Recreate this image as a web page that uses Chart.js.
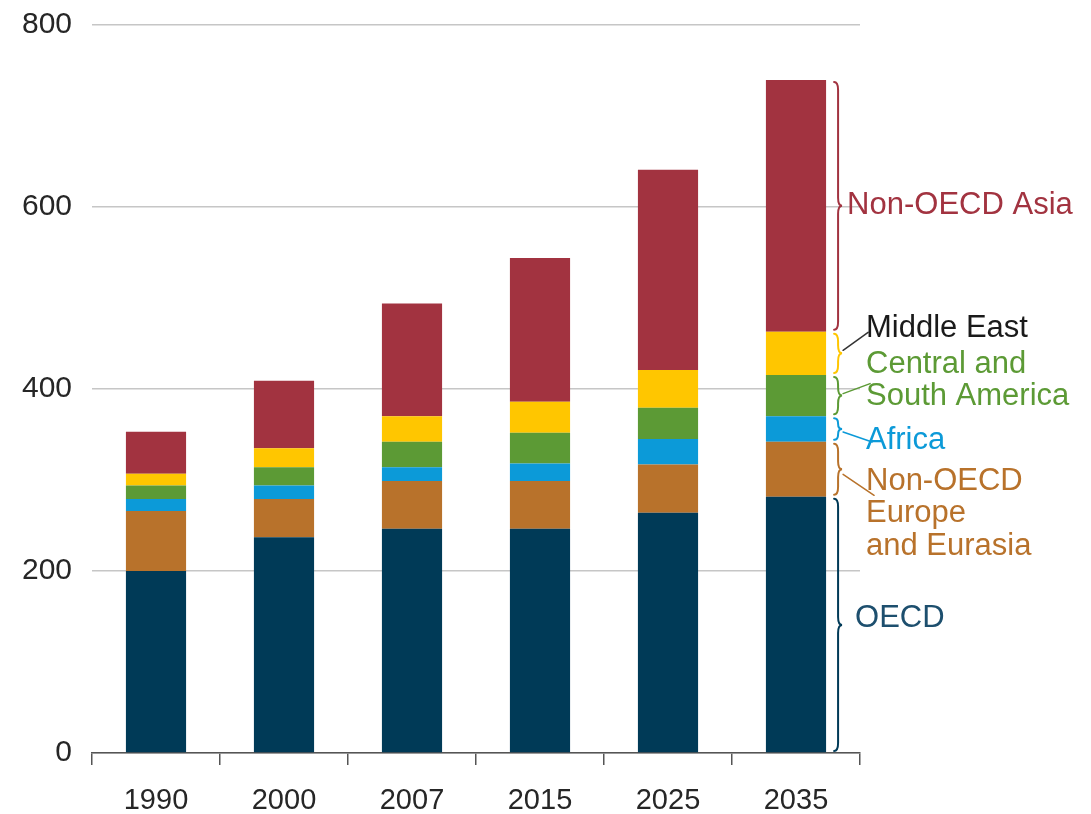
<!DOCTYPE html>
<html>
<head>
<meta charset="utf-8">
<script src="https://cdn.jsdelivr.net/npm/chart.js@4/dist/chart.umd.min.js"></script>
<style>
    body { margin: 0; background: #fff; }
    #wrap { width: 1091px; height: 814px; position: relative; }
</style>
</head>
<body>
<div id="wrap"><canvas id="energyChart"></canvas></div>
<script>
const years = ['1990', '2000', '2007', '2015', '2025', '2035'];
const yTicks = [0, 200, 400, 600, 800];

// stacked from the bottom up
const oecd = [200, 237, 246.5, 246.5, 264, 281.5];
const nonOecdEurope = [66, 42, 52.5, 52.5, 53, 60.5];
const africa = [13, 15, 15, 19, 28, 28];
const centralSouthAmerica = [15, 20, 28, 34, 34.5, 45.5];
const middleEast = [13, 21, 28, 34, 41.5, 47.5];
const nonOecdAsia = [46, 74, 124, 158, 220, 276.5];

const regionNames = ['OECD', 'Non-OECD Europe and Eurasia', 'Africa', 'Central and South America', 'Middle East', 'Non-OECD Asia'];
const regionColors = ['#003a57', '#b8722b', '#0c9ad8', '#5c9a35', '#ffc600', '#a23340'];

const FONT = '"Liberation Sans", Arial, sans-serif';

// brace labels next to the last bar
const braceLabels = [
    { lines: ['OECD'], color: '#1d4f6e', big: true, dx: 21, dy: -6 },
    { lines: ['Non-OECD', 'Europe', 'and Eurasia'], color: '#b8722b', lead: [[1, 5], [32, 26]], tx: 866, ty: 481 },
    { lines: ['Africa'], color: '#0c9ad8', lead: [[1, 3], [30, 13]], tx: 866, ty: 440 },
    { lines: ['Central and', 'South America'], color: '#5c9a35', lead: [[1, -2], [28, -12]], tx: 866, ty: 364 },
    { lines: ['Middle East'], color: '#1a1a1a', leadColor: '#333', lead: [[1, -3], [26, -21]], tx: 866, ty: 328 },
    { lines: ['Non-OECD Asia'], color: '#a23340', big: true, dx: 13, dy: 0 }
];

function drawBrace(ctx, x, top, bottom, depth) {
    const mid = (top + bottom) / 2;
    const q = Math.min(8, (bottom - top) / 4);
    const h = depth / 2;
    ctx.beginPath();
    ctx.moveTo(x, top);
    ctx.quadraticCurveTo(x + h, top, x + h, top + q);
    ctx.lineTo(x + h, mid - q);
    ctx.quadraticCurveTo(x + h, mid, x + depth, mid);
    ctx.quadraticCurveTo(x + h, mid, x + h, mid + q);
    ctx.lineTo(x + h, bottom - q);
    ctx.quadraticCurveTo(x + h, bottom, x, bottom);
    ctx.stroke();
}

const bracePlugin = {
    id: 'braces',
    afterDatasetsDraw(chart) {
        const ctx = chart.ctx;
        const y = chart.scales.y;
        const last = years.length - 1;
        const meta = chart.getDatasetMeta(0);
        const bar = meta.data[last];
        const x0 = bar.x + bar.width / 2 + 8;
        let base = 0;
        ctx.save();
        ctx.lineWidth = 2;
        ctx.lineCap = 'round';
        chart.data.datasets.forEach((ds, i) => {
            const val = ds.data[last];
            const top = y.getPixelForValue(base + val) + 2;
            const bottom = y.getPixelForValue(base) - 2;
            base += val;
            const lab = braceLabels[i];
            ctx.strokeStyle = ds.backgroundColor;
            drawBrace(ctx, x0, top, bottom, 8);
            const mid = (top + bottom) / 2;
            ctx.font = '31px ' + FONT;
            ctx.fillStyle = lab.color;
            ctx.textBaseline = 'middle';
            ctx.textAlign = 'left';
            if (lab.big) {
                ctx.fillText(lab.lines[0], x0 + lab.dx, mid + lab.dy);
            } else {
                ctx.strokeStyle = lab.leadColor || ds.backgroundColor;
                ctx.lineWidth = 1.5;
                ctx.beginPath();
                ctx.moveTo(x0 + 8 + lab.lead[0][0], mid + lab.lead[0][1]);
                ctx.lineTo(x0 + 8 + lab.lead[1][0], mid + lab.lead[1][1]);
                ctx.stroke();
                ctx.lineWidth = 2;
                lab.lines.forEach((t, k) => ctx.fillText(t, lab.tx, lab.ty + k * 32.5));
            }
        });
        ctx.restore();
    }
};

const series = [oecd, nonOecdEurope, africa, centralSouthAmerica, middleEast, nonOecdAsia];

new Chart(document.getElementById('energyChart'), {
    type: 'bar',
    data: {
        labels: years,
        datasets: series.map((d, i) => ({
            label: regionNames[i],
            data: d,
            backgroundColor: regionColors[i],
            barPercentage: 0.47,
            categoryPercentage: 1
        }))
    },
    options: {
        responsive: true,
        maintainAspectRatio: false,
        animation: false,
        layout: { padding: { top: 25, right: 231, bottom: 0, left: 0 } },
        plugins: {
            legend: { display: false },
            tooltip: { enabled: false }
        },
        scales: {
            x: {
                stacked: true,
                afterFit: s => { s.height = 61; },
                border: { display: true, color: '#555', width: 1.5 },
                grid: { offset: true, drawOnChartArea: false, drawTicks: true, tickLength: 12, color: '#555', lineWidth: 1.5 },
                ticks: { color: '#262626', font: { family: FONT, size: 29 }, padding: 19 }
            },
            y: {
                stacked: true,
                min: 0,
                max: 800,
                afterFit: s => { s.width = 92; s.paddingTop = 0; s.paddingBottom = 0; },
                afterBuildTicks: s => { s.ticks = yTicks.map(v => ({ value: v })); },
                border: { display: false },
                grid: { color: '#c6c6c6', lineWidth: 1.5, drawTicks: false },
                ticks: { color: '#262626', font: { family: FONT, size: 30 }, padding: 20 }
            }
        }
    },
    plugins: [bracePlugin]
});
</script>
</body>
</html>
